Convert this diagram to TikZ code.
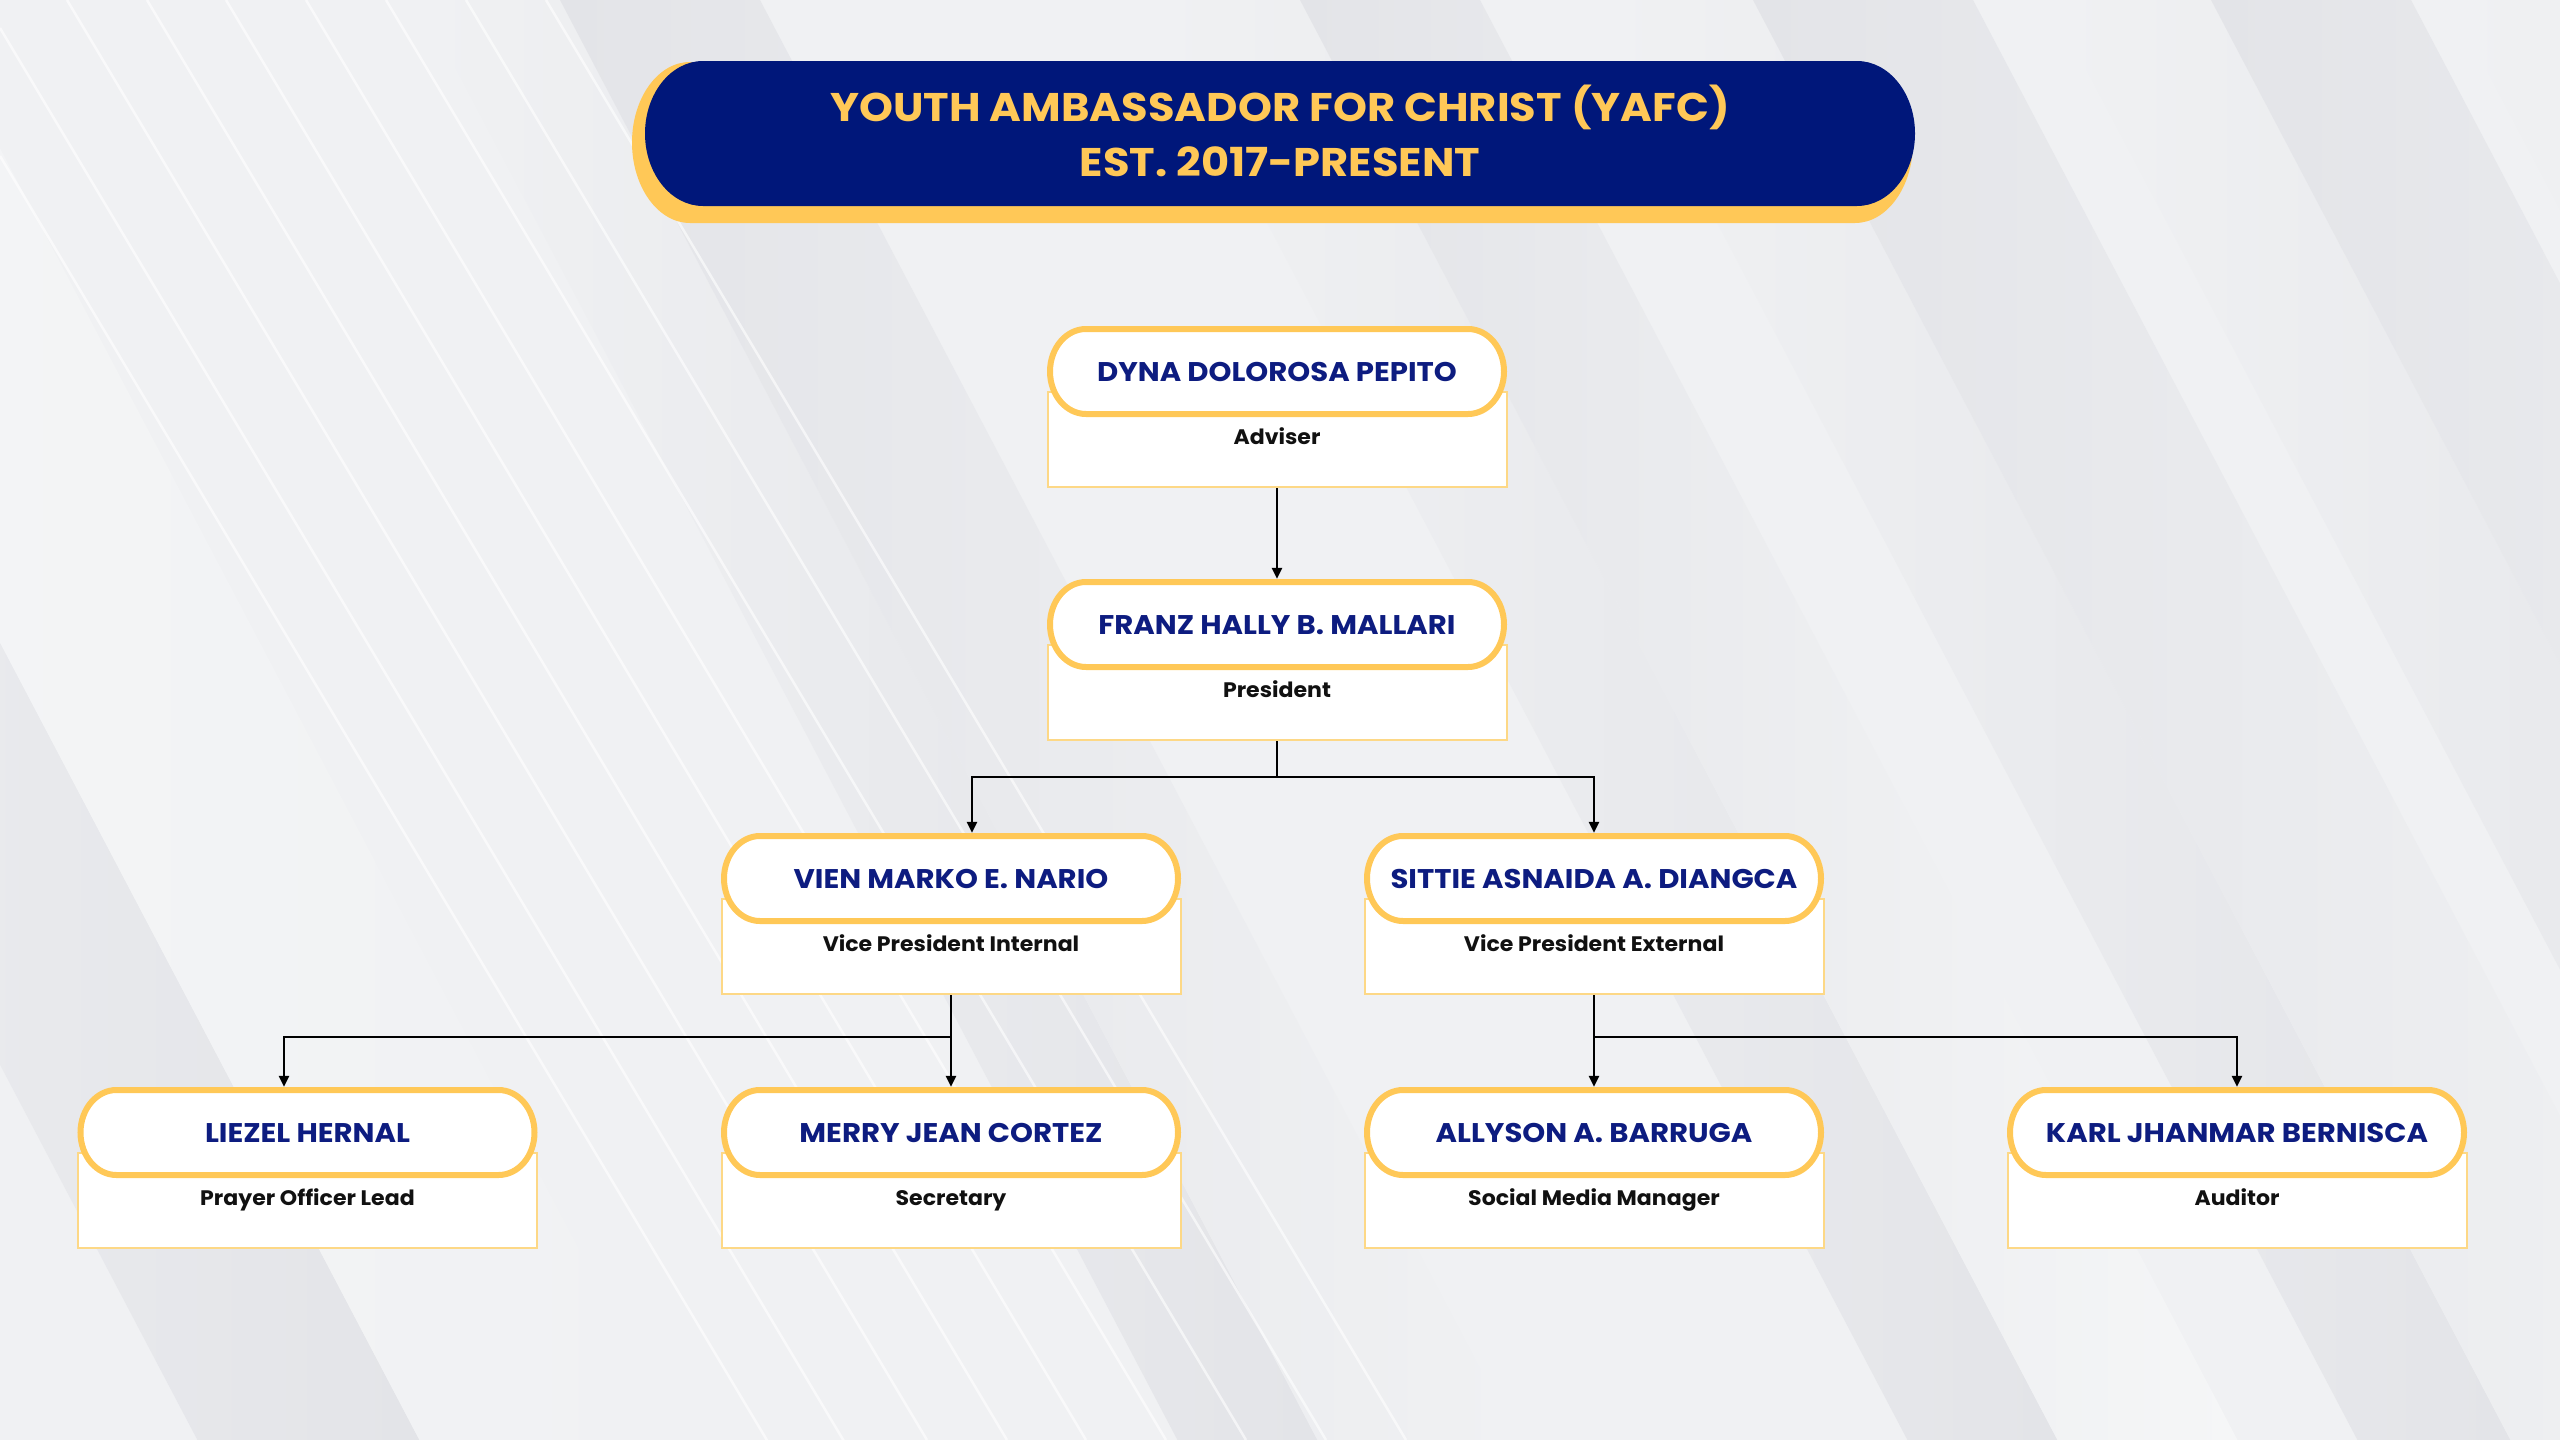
\documentclass[tikz,border=0pt]{standalone}
\usepackage{fontspec}
\setmainfont{Poppins}
\newfontfamily\namefont{Poppins}[FakeStretch=1.08]
\newfontfamily\rolefont{Poppins}[FakeStretch=1.05]
\usetikzlibrary{arrows.meta,calc}
\definecolor{bgc}{HTML}{F0F1F3}
\definecolor{bandc}{HTML}{E3E4E8}
\definecolor{lightc}{HTML}{F5F6F7}
\definecolor{navy}{HTML}{00177A}
\definecolor{gold}{HTML}{FFC857}
\definecolor{goldlight}{HTML}{FDD886}
\definecolor{namecol}{HTML}{0D1C80}
\definecolor{rolecol}{HTML}{111111}
\tikzset{
  namebox/.style={minimum width=454pt, minimum height=85pt, inner sep=0pt, text=namecol,
    font=\namefont\bfseries\fontsize{27}{30}\selectfont, text height=19pt, text depth=0pt},
  rolebox/.style={draw=goldlight, line width=2pt, fill=white, minimum width=459pt,
    minimum height=95pt, inner sep=0pt, text=rolecol,
    font=\rolefont\bfseries\fontsize{21}{24}\selectfont, text height=15pt, text depth=6pt},
  pilloutline/.style={draw=gold, line width=6pt, fill=white},
  titletext/.style={text=gold, inner sep=0pt, font=\namefont\bfseries\fontsize{40}{44}\selectfont,
    text height=28pt, text depth=0pt},
  plainlink/.style={draw=black, line width=2.6pt},
  link/.style={plainlink, -{Triangle[length=11pt,width=10pt]}, shorten >=3pt},
  whiteline/.style={draw=white, line width=2.5pt, opacity=0.6},
}
% soft diagonal band: #1 top x, #2 width, #3 colour at left edge, #4 colour at right edge
\newcommand\softband[4]{%
  \begin{scope}[shift={(#1,0)}, xslant=-0.526]
    \shade[left color=#3, right color=#4] (0,0) rectangle (#2,1440);
  \end{scope}}
\newcommand\person[5]{%
  \node[rolebox] (#1) at (#2,#3+113.5) {#5};
  \draw[pilloutline] (#2-191,#3+3) -- (#2+191,#3+3)
    arc[start angle=90,end angle=-90,x radius=36pt,y radius=42.5pt]
    -- (#2-191,#3+88)
    arc[start angle=270,end angle=90,x radius=36pt,y radius=42.5pt] -- cycle;
  \node[namebox] (#1N) at (#2,#3+45.5) {#4};
}
\begin{document}
\begin{tikzpicture}[x=1pt,y=-1pt]
\useasboundingbox (0,0) rectangle (2560,1440);
% background
\fill[bgc] (0,0) rectangle (2560,1440);
\begin{scope}
\clip (0,0) rectangle (2560,1440);
\softband{-560}{222}{bgc}{bandc}
\softband{-338}{260}{lightc}{bgc}
\softband{420}{140}{bgc}{bandc}
\softband{560}{200}{bandc}{bgc}
\softband{1150}{150}{bgc}{bandc}
\softband{1300}{180}{bandc}{lightc}
\softband{1600}{153}{bgc}{bandc}
\softband{1753}{220}{bandc}{bgc}
\softband{2050}{161}{bgc}{bandc}
\softband{2211}{200}{bandc}{bgc}
\softband{2450}{200}{bgc}{bandc}
\foreach \s in {67,147,226,306,386,466,546}
  \draw[whiteline] (\s,0) -- ++(860,1440);
\foreach \s in {28,156}
  \draw[whiteline] (0,\s) -- ++(860,1440);
\end{scope}
% title
\fill[gold] (690,62) -- (1855,62)
  arc[start angle=90,end angle=-90,x radius=58pt,y radius=80.5pt]
  -- (690,223) arc[start angle=270,end angle=90,x radius=58pt,y radius=80.5pt] -- cycle;
\fill[navy] (703,61) -- (1857,61)
  arc[start angle=90,end angle=-90,x radius=58pt,y radius=72.5pt]
  -- (703,206) arc[start angle=270,end angle=90,x radius=58pt,y radius=72.5pt] -- cycle;
\node[titletext] (title1) at (1280,107) {YOUTH AMBASSADOR FOR CHRIST (YAFC)};
\node[titletext] (title2) at (1280,162) {EST. 2017-PRESENT};
% people
\person{adv}{1277}{326}{DYNA DOLOROSA PEPITO}{Adviser}
\person{pres}{1277}{579}{FRANZ HALLY B. MALLARI}{President}
\person{vpi}{951}{833}{VIEN MARKO E. NARIO}{Vice President Internal}
\person{vpe}{1594}{833}{SITTIE ASNAIDA A. DIANGCA}{Vice President External}
\person{lie}{307.5}{1087}{LIEZEL HERNAL}{Prayer Officer Lead}
\person{mer}{951}{1087}{MERRY JEAN CORTEZ}{Secretary}
\person{all}{1594}{1087}{ALLYSON A. BARRUGA}{Social Media Manager}
\person{kar}{2237}{1087}{KARL JHANMAR BERNISCA}{Auditor}
% connectors
\draw[link] (adv.south) -- (presN.north);
\coordinate (j1) at (1277,777);
\draw[plainlink] (pres.south) -- (j1);
\draw[link] (j1) -| ([xshift=21pt]vpiN.north);
\draw[link] (j1) -| (vpeN.north);
\coordinate (j2) at (951,1037);
\draw[plainlink] (vpi.south) -- (j2);
\draw[link] (j2) -| ([xshift=-23.5pt]lieN.north);
\draw[link] (j2) -- (merN.north);
\coordinate (j3) at (1594,1037);
\draw[plainlink] (vpe.south) -- (j3);
\draw[link] (j3) -- (allN.north);
\draw[link] (j3) -| (karN.north);
\end{tikzpicture}
\end{document}
